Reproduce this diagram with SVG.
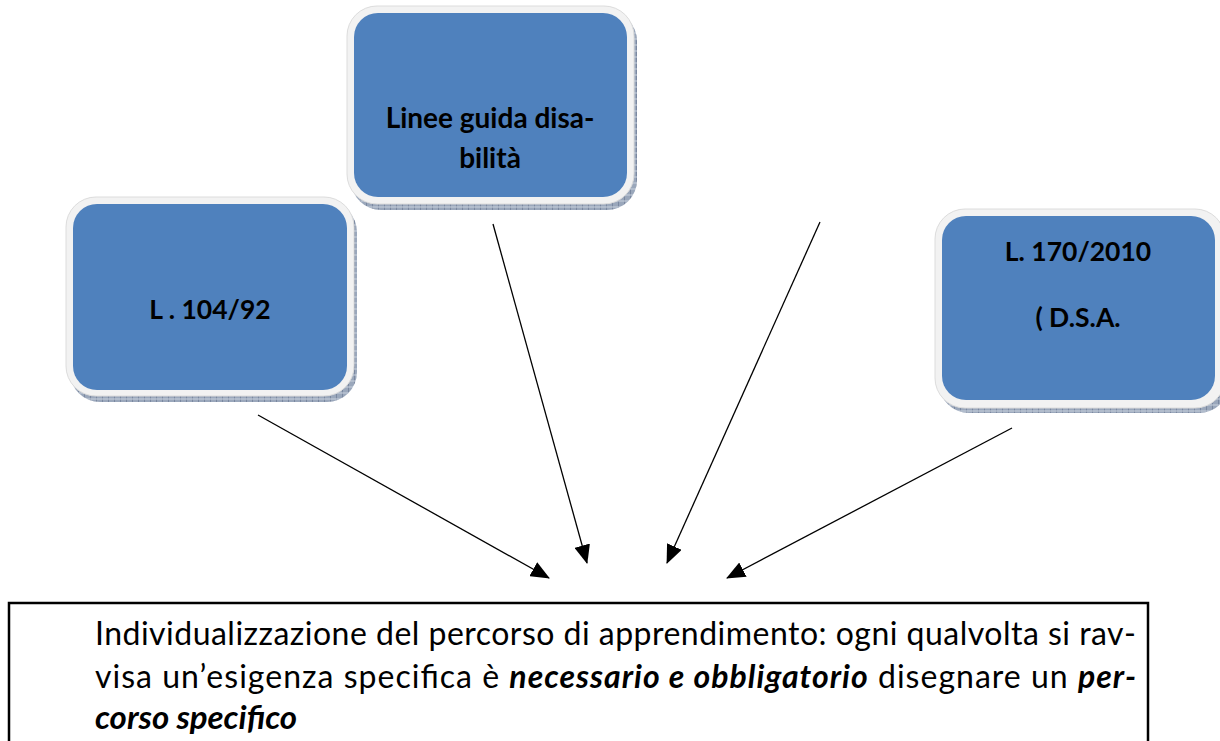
<svg xmlns="http://www.w3.org/2000/svg" width="1220" height="741" viewBox="0 0 1220 741">
<defs>
<pattern id="hatch" width="6" height="6" patternUnits="userSpaceOnUse">
<rect width="6" height="6" fill="#9aa7bb"/>
<line x1="0" y1="0" x2="0" y2="6" stroke="#5a6a85" stroke-width="1"/>
<line x1="0" y1="3" x2="6" y2="3" stroke="#c9d1dd" stroke-width="1"/>
</pattern>
<marker id="arr" markerUnits="userSpaceOnUse" markerWidth="20" markerHeight="16" refX="18" refY="8" orient="auto">
<path d="M0,0 L19,8 L0,16 Z" fill="#000"/>
</marker>
<style>
.shadow{fill:url(#hatch);}
.rim{fill:#f2f2f2;stroke:#dcdcdc;stroke-width:1;}
.blue{fill:#4f81bd;}
.lbl{font-family:Lato,"Open Sans","Liberation Sans",sans-serif;font-weight:bold;font-size:26.5px;fill:#000;text-anchor:middle;}
.big{font-size:28px;}
.conn{stroke:#000;stroke-width:1.3;fill:none;marker-end:url(#arr);}
.body{font-family:Lato,"Open Sans","Liberation Sans",sans-serif;font-size:32px;fill:#000;}
.bi{font-weight:bold;font-style:italic;}
</style>
</defs>
<rect width="1220" height="741" fill="#fff"/>

<g id="node-linee">
<rect class="shadow" x="351" y="11" width="286" height="199" rx="30"/>
<rect class="rim" x="347" y="6" width="287" height="198" rx="30"/>
<rect class="blue" x="354" y="13" width="273" height="184" rx="24"/>
<text class="lbl big" x="490" y="128">Linee guida disa-</text>
<text class="lbl big" x="490" y="168">bilità</text>
</g>

<g id="node-l104">
<rect class="shadow" x="70" y="202" width="287" height="200" rx="30"/>
<rect class="rim" x="66" y="197" width="288" height="199" rx="30"/>
<rect class="blue" x="73" y="204" width="274" height="186" rx="24"/>
<text class="lbl" x="210" y="319">L . 104/92</text>
</g>

<g id="node-l170">
<rect class="shadow" x="939" y="214" width="290" height="199" rx="30"/>
<rect class="rim" x="935" y="209" width="290" height="199" rx="30"/>
<rect class="blue" x="942" y="216" width="273" height="184" rx="24"/>
<text class="lbl" x="1078" y="261">L. 170/2010</text>
<text class="lbl" x="1078" y="327">( D.S.A.</text>
</g>

<g id="connectors">
<line class="conn" x1="258" y1="415" x2="549" y2="578"/>
<line class="conn" x1="493" y1="224" x2="587" y2="563"/>
<line class="conn" x1="820" y1="222" x2="667" y2="563"/>
<line class="conn" x1="1012" y1="428" x2="727" y2="578"/>
</g>

<g id="node-individualizzazione">
<rect x="9" y="603" width="1139" height="150" fill="#fff" stroke="#000" stroke-width="2.5"/>
<text class="body" x="95" y="645" textLength="1041" lengthAdjust="spacing">Individualizzazione del percorso di apprendimento: ogni qualvolta si rav-</text>
<text class="body" x="95" y="688" textLength="1041" lengthAdjust="spacing">visa un’esigenza specifica è <tspan class="bi">necessario e obbligatorio</tspan> disegnare un <tspan class="bi">per-</tspan></text>
<text class="body bi" x="95" y="729" style="font-size:33px">corso specifico</text>
</g>
</svg>
